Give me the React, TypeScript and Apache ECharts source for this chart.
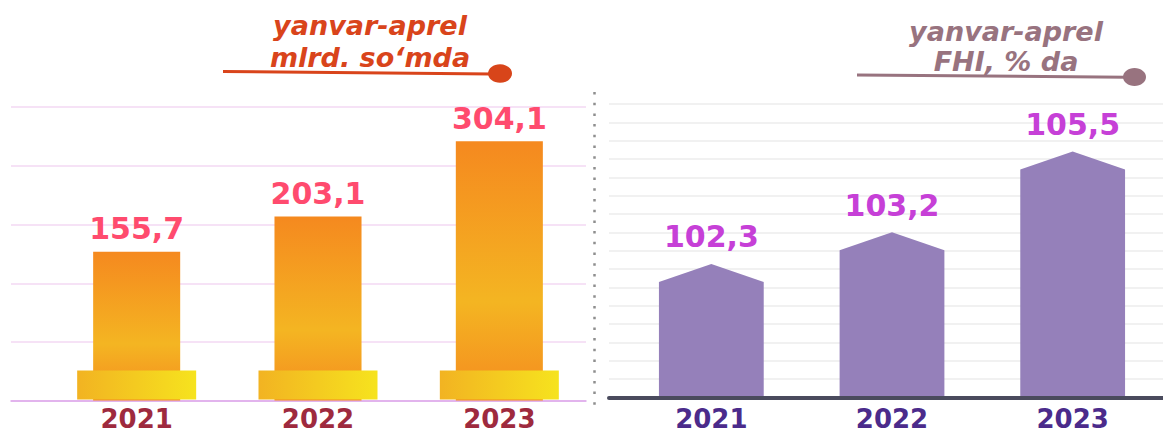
import React, { useEffect, useRef } from "react";
import * as echarts from "echarts";

// ---- data ----
const leftCategories = ["2021", "2022", "2023"];
const exportValues = [155.7, 203.1, 304.1];
const rightCategories = ["2021", "2022", "2023"];
const indexValues = [102.3, 103.2, 105.5];
const leftTitle = "yanvar-aprel\nmlrd. so‘mda";
const rightTitle = "yanvar-aprel\nFHI, % da";

const LEFT_MIN = -44;
const LEFT_MAX = 350;
const RIGHT_MIN = 98.5;
const RIGHT_MAX = 106.85;

const FONT = "DejaVu Sans";
const fmt = (v: number) => v.toFixed(1).replace(".", ",");

export default function App() {
  const ref = useRef<HTMLDivElement>(null);

  useEffect(() => {
    if (!ref.current) return;
    const chart = echarts.init(ref.current, null, { renderer: "svg" });

    const option: any = {
      animation: false,
      backgroundColor: "#ffffff",
      grid: [
        { left: 11, top: 107, width: 575, height: 294 },
        { left: 46, top: 107, width: 544, height: 294 },
        { left: 609, top: 104, width: 554, height: 293.5 },
        { left: 621, top: 104, width: 555, height: 293.5 },
      ],
      xAxis: [
        {
          gridIndex: 0, type: "value", min: 0, max: 1,
          axisLine: { show: true, lineStyle: { color: "#DBA5EA", width: 1.5 } },
          axisTick: { show: false }, axisLabel: { show: false }, splitLine: { show: false },
        },
        {
          gridIndex: 1, type: "category", data: leftCategories,
          axisLine: { show: false }, axisTick: { show: false },
          axisLabel: { margin: 7, color: "#9E2A3E", fontFamily: FONT, fontWeight: "bold", fontSize: 26, lineHeight: 23 },
        },
        {
          gridIndex: 2, type: "value", min: 0, max: 1, z: 10,
          axisLine: { show: true, lineStyle: { color: "#4A4B5D", width: 4, cap: "round" } },
          axisTick: { show: false }, axisLabel: { show: false }, splitLine: { show: false },
        },
        {
          gridIndex: 3, type: "category", data: rightCategories,
          axisLine: { show: false }, axisTick: { show: false },
          axisLabel: { margin: 10, color: "#4B2B8B", fontFamily: FONT, fontWeight: "bold", fontSize: 26, lineHeight: 23 },
        },
      ],
      yAxis: [
        {
          gridIndex: 0, type: "value", min: 0, max: 5, interval: 1,
          axisLine: { show: false }, axisTick: { show: false }, axisLabel: { show: false },
          splitLine: { show: true, lineStyle: { color: "#F3D9F3", width: 1.5 } },
        },
        { gridIndex: 1, type: "value", min: LEFT_MIN, max: LEFT_MAX, show: false, splitLine: { show: false } },
        {
          gridIndex: 2, type: "value", min: 0, max: 16, interval: 1,
          axisLine: { show: false }, axisTick: { show: false }, axisLabel: { show: false },
          splitLine: { show: true, lineStyle: { color: "#EDEDED", width: 1.5 } },
        },
        { gridIndex: 3, type: "value", min: RIGHT_MIN, max: RIGHT_MAX, show: false, splitLine: { show: false } },
      ],
      graphic: [
        {
          type: "text", x: 370, y: 9,
          style: {
            text: leftTitle, fill: "#D9441B", font: `italic bold 27px "${FONT}"`,
            align: "center", verticalAlign: "top", lineHeight: 32,
          },
        },
        { type: "line", shape: { x1: 223, y1: 71.5, x2: 492, y2: 74 }, style: { stroke: "#D9441B", lineWidth: 3 } },
        { type: "ellipse", shape: { cx: 500, cy: 73.5, rx: 12, ry: 9.3 }, style: { fill: "#D8451A" } },
        {
          type: "text", x: 1006, y: 17,
          style: {
            text: rightTitle, fill: "#98737F", font: `italic bold 27px "${FONT}"`,
            align: "center", verticalAlign: "top", lineHeight: 29.5,
          },
        },
        { type: "line", shape: { x1: 857, y1: 75, x2: 1127, y2: 77.3 }, style: { stroke: "#98737F", lineWidth: 3 } },
        { type: "ellipse", shape: { cx: 1134.5, cy: 77, rx: 11.5, ry: 9 }, style: { fill: "#98737F" } },
        {
          type: "line", shape: { x1: 594.5, y1: 92, x2: 594.5, y2: 405 },
          style: { stroke: "#8E8E8E", lineWidth: 2.5, lineDash: [2.5, 8.2] },
        },
      ],
      series: [
        {
          type: "custom", xAxisIndex: 1, yAxisIndex: 1, z: 3,
          data: exportValues.map((v, i) => [i, v]),
          encode: { x: 0, y: 1 },
          renderItem: (params: any, api: any) => {
            const idx = api.value(0);
            const val = api.value(1);
            const top = api.coord([idx, val]);
            const base = api.coord([idx, LEFT_MIN]);
            const bw = api.size([1, 0])[0] * 0.48;
            const pw = 119;
            const ph = 29;
            return {
              type: "group",
              children: [
                {
                  type: "rect",
                  shape: { x: top[0] - bw / 2, y: top[1], width: bw, height: base[1] - top[1] },
                  style: {
                    fill: new echarts.graphic.LinearGradient(0, 0, 0, 1, [
                      { offset: 0, color: "#F5891F" },
                      { offset: 0.62, color: "#F4B522" },
                      { offset: 1, color: "#F58A1F" },
                    ]),
                  },
                },
                {
                  type: "rect",
                  shape: { x: base[0] - pw / 2, y: base[1] - 1 - ph, width: pw, height: ph },
                  style: {
                    fill: new echarts.graphic.LinearGradient(0, 0, 1, 0, [
                      { offset: 0, color: "#F2B322" },
                      { offset: 1, color: "#F6E31E" },
                    ]),
                  },
                },
                {
                  type: "text",
                  x: top[0],
                  y: top[1] - 8,
                  style: {
                    text: fmt(val), fill: "#FF4B6E",
                    font: `bold 30px "${FONT}"`, align: "center", verticalAlign: "bottom",
                  },
                },
              ],
            };
          },
        },
        {
          type: "custom", xAxisIndex: 3, yAxisIndex: 3, z: 3,
          data: indexValues.map((v, i) => [i, v]),
          encode: { x: 0, y: 1 },
          renderItem: (params: any, api: any) => {
            const idx = api.value(0);
            const val = api.value(1);
            const peak = api.coord([idx, val]);
            const base = api.coord([idx, RIGHT_MIN]);
            const w = api.size([1, 0])[0] * 0.58;
            const roof = 18;
            const x0 = peak[0] - w / 2;
            const x1 = peak[0] + w / 2;
            return {
              type: "group",
              children: [
                {
                  type: "polygon",
                  shape: {
                    points: [
                      [x0, base[1]],
                      [x0, peak[1] + roof],
                      [peak[0], peak[1]],
                      [x1, peak[1] + roof],
                      [x1, base[1]],
                    ],
                  },
                  style: { fill: "#9580BA" },
                },
                {
                  type: "text",
                  x: peak[0],
                  y: peak[1] - 12,
                  style: {
                    text: fmt(val), fill: "#C640D7",
                    font: `bold 30px "${FONT}"`, align: "center", verticalAlign: "bottom",
                  },
                },
              ],
            };
          },
        },
      ],
    };

    chart.setOption(option);
    return () => chart.dispose();
  }, []);

  return (
    <div
      ref={ref}
      style={{ position: "fixed", left: 0, top: 0, width: 1163, height: 432, background: "#fff" }}
    />
  );
}
